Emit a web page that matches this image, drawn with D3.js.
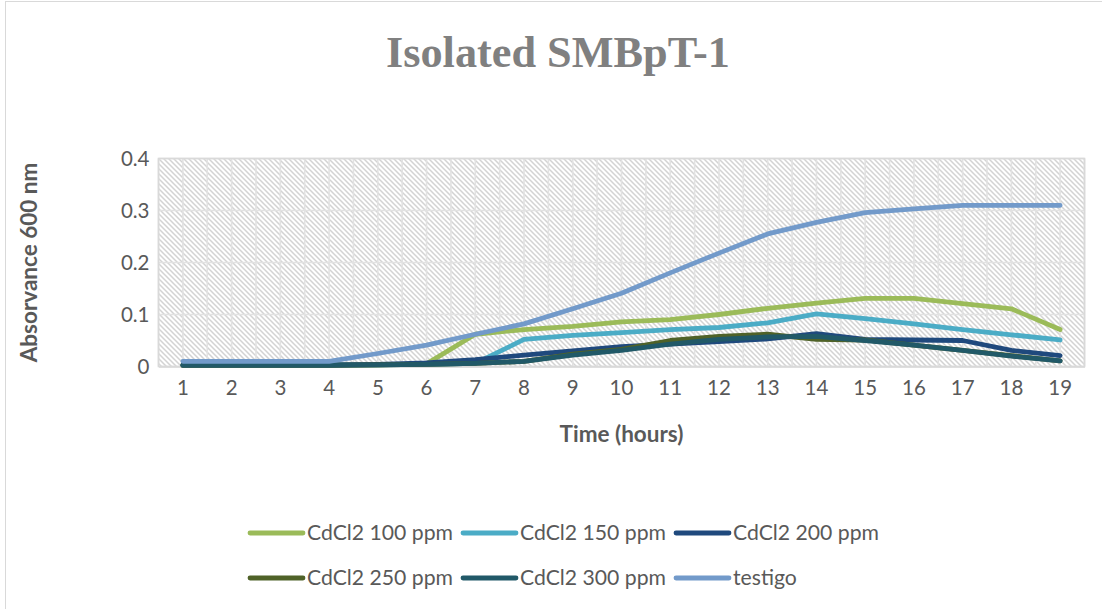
<!DOCTYPE html>
<html>
<head>
<meta charset="utf-8">
<script src="https://cdn.jsdelivr.net/npm/d3@7"></script>
<style>
  html, body { margin: 0; padding: 0; background: #fff; }
  svg { display: block; }
</style>
</head>
<body>
<svg id="chart" width="1102" height="609"></svg>
<script>
// ---- Data ----
const hours = ["1","2","3","4","5","6","7","8","9","10","11","12","13","14","15","16","17","18","19"];
const cd100 = [0.003,0.003,0.003,0.003,0.003,0.005,0.062,0.071,0.077,0.086,0.090,0.100,0.112,0.122,0.131,0.131,0.121,0.111,0.071];
const cd150 = [0.003,0.003,0.003,0.003,0.003,0.004,0.006,0.052,0.060,0.065,0.071,0.075,0.084,0.101,0.092,0.082,0.071,0.061,0.051];
const cd200 = [0.003,0.003,0.003,0.003,0.004,0.007,0.013,0.022,0.030,0.038,0.043,0.048,0.053,0.063,0.052,0.051,0.050,0.031,0.021];
const cd250 = [0.002,0.002,0.002,0.002,0.003,0.004,0.006,0.010,0.024,0.033,0.050,0.058,0.062,0.052,0.051,0.041,0.031,0.021,0.011];
const cd300 = [0.002,0.002,0.002,0.002,0.003,0.004,0.006,0.010,0.022,0.031,0.043,0.052,0.057,0.058,0.050,0.041,0.031,0.020,0.011];
const testigo = [0.010,0.010,0.010,0.010,0.025,0.041,0.062,0.082,0.111,0.141,0.180,0.218,0.255,0.277,0.296,0.303,0.310,0.310,0.310];
const seriesNames = ["CdCl2 100 ppm","CdCl2 150 ppm","CdCl2 200 ppm","CdCl2 250 ppm","CdCl2 300 ppm","testigo"];
const seriesColors = ["#9BBB59","#4BACC6","#1F497D","#4F6228","#215968","#729ACA"];
const yTicks = [0, 0.1, 0.2, 0.3, 0.4];
const yTickLabels = ["0","0.1","0.2","0.3","0.4"];
const chartTitle = "Isolated SMBpT-1";
const xTitle = "Time (hours)";
const yTitle = "Absorvance 600 nm";

const seriesValues = [cd100, cd150, cd200, cd250, cd300, testigo];

// ---- Layout ----
const svg = d3.select("#chart");
const W = 1102, H = 609;
const plot = { left: 158.5, right: 1084.5, top: 158.5, bottom: 366.5 };
const textColor = "#595959";
const font = "Lato, 'Open Sans', sans-serif";

// outer border
svg.append("rect").attr("x", 5.5).attr("y", 1.5).attr("width", W + 10).attr("height", H + 10)
  .attr("fill", "#fff").attr("stroke", "#D9D9D9").attr("stroke-width", 1);

// hatch pattern
const defs = svg.append("defs");
const pat = defs.append("pattern").attr("id", "hatch").attr("patternUnits", "userSpaceOnUse")
  .attr("width", 5).attr("height", 5);
pat.append("rect").attr("width", 5).attr("height", 5).attr("fill", "#fff");
pat.append("path").attr("d", "M-1,-1 L6,6 M-1,4 L1,6 M4,-1 L6,1")
  .attr("stroke", "#D3D3D3").attr("stroke-width", 1.5);

const x = d3.scaleBand().domain(hours).range([plot.left, plot.right]).paddingInner(0).paddingOuter(0);
const y = d3.scaleLinear().domain([0, 0.4]).range([plot.bottom, plot.top]);

svg.append("rect").attr("x", plot.left).attr("y", plot.top)
  .attr("width", plot.right - plot.left).attr("height", plot.bottom - plot.top)
  .attr("fill", "url(#hatch)");

// vertical gridlines at category boundaries and centers
const gridG = svg.append("g");
const vLines = [];
hours.forEach(h => { vLines.push(x(h)); vLines.push(x(h) + x.bandwidth() / 2); });
vLines.push(plot.right);
gridG.selectAll("line.v").data(vLines).join("line")
  .attr("x1", d => d).attr("x2", d => d).attr("y1", plot.top).attr("y2", plot.bottom)
  .attr("stroke", "#E2E2E2").attr("stroke-width", 1.6);
gridG.selectAll("line.h").data(yTicks).join("line")
  .attr("x1", plot.left).attr("x2", plot.right).attr("y1", d => y(d)).attr("y2", d => y(d))
  .attr("stroke", "#E2E2E2").attr("stroke-width", 1.6);
// plot border
svg.append("rect").attr("x", plot.left).attr("y", plot.top)
  .attr("width", plot.right - plot.left).attr("height", plot.bottom - plot.top)
  .attr("fill", "none").attr("stroke", "#D9D9D9").attr("stroke-width", 1.6);

// axes
const yAxis = d3.axisLeft(y).tickValues(yTicks).tickFormat((d, i) => yTickLabels[i]).tickSize(0).tickPadding(9);
const yg = svg.append("g").attr("transform", `translate(${plot.left},0)`).call(yAxis);
yg.select(".domain").remove();
yg.selectAll("text").attr("font-family", font).attr("font-size", 20.5).attr("fill", textColor);

const xAxis = d3.axisBottom(x).tickSize(0).tickPadding(14);
const xg = svg.append("g").attr("transform", `translate(0,${plot.bottom})`).call(xAxis);
xg.select(".domain").attr("stroke", "#D9D9D9").attr("stroke-width", 1.6);
xg.selectAll("text").attr("font-family", font).attr("font-size", 20.5).attr("fill", textColor);

// lines
const line = d3.line().x((d, i) => x(hours[i]) + x.bandwidth() / 2).y(d => y(d));
svg.append("g").selectAll("path").data(seriesValues).join("path")
  .attr("d", d => line(d))
  .attr("fill", "none")
  .attr("stroke", (d, i) => seriesColors[i])
  .attr("stroke-width", 4.8)
  .attr("stroke-linejoin", "round")
  .attr("stroke-linecap", "round");

// titles
svg.append("text").attr("x", 558).attr("y", 67).attr("text-anchor", "middle")
  .attr("font-family", "'Liberation Serif', 'DejaVu Serif', serif").attr("font-weight", "bold")
  .attr("font-size", 44).attr("fill", "#808080")
  .attr("textLength", 344).attr("lengthAdjust", "spacingAndGlyphs")
  .text(chartTitle);

svg.append("text").attr("x", (plot.left + plot.right) / 2).attr("y", 442).attr("text-anchor", "middle")
  .attr("font-family", font).attr("font-weight", "bold").attr("font-size", 22.5).attr("fill", textColor)
  .text(xTitle);

svg.append("text").attr("transform", `translate(37,${(plot.top + plot.bottom) / 2}) rotate(-90)`)
  .attr("text-anchor", "middle")
  .attr("font-family", font).attr("font-weight", "bold").attr("font-size", 22.5).attr("fill", textColor)
  .text(yTitle);

// legend
const legX = [250, 463, 676];
const legY = [533, 578];
const leg = svg.append("g");
seriesNames.forEach((name, i) => {
  const lx = legX[i % 3], ly = legY[Math.floor(i / 3)];
  leg.append("line").attr("x1", lx).attr("x2", lx + 53).attr("y1", ly).attr("y2", ly)
    .attr("stroke", seriesColors[i]).attr("stroke-width", 4.8).attr("stroke-linecap", "round");
  leg.append("text").attr("x", lx + 57).attr("y", ly).attr("dy", "0.35em")
    .attr("font-family", font).attr("font-size", 21.2).attr("fill", textColor).text(name);
});
</script>
</body>
</html>
